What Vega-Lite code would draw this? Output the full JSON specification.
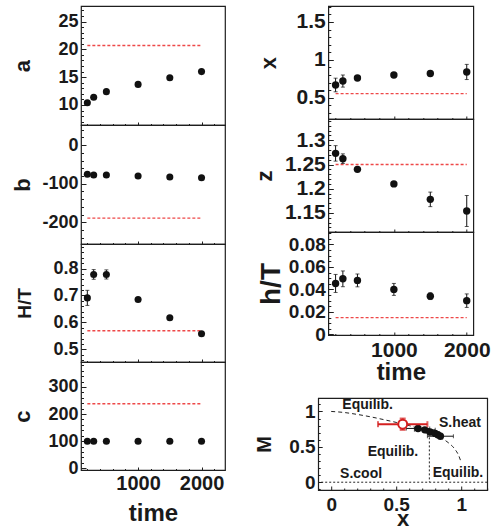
{
  "$schema": "https://vega.github.io/schema/vega-lite/v6.json",
  "padding": {"left": 10, "top": 5, "right": 0, "bottom": 0},
  "config": {
    "font": "Liberation Sans",
    "view": {"stroke": "#1e1e1e", "strokeWidth": 1.2},
    "axis": {
      "domain": false, "grid": false, "tickCount": 200,
      "labelFont": "Liberation Sans", "labelFontWeight": "bold", "labelColor": "#1a1a1a",
      "titleFont": "Liberation Sans", "titleFontWeight": "bold", "titleColor": "#1a1a1a",
      "tickColor": "#1e1e1e", "tickWidth": 1, "labelFlush": false, "labelOverlap": false
    }
  },
  "datasets": {
    "series": [
      {"var": "a", "time": 200, "value": 10.4, "lo": 10.3, "hi": 10.5},
      {"var": "a", "time": 300, "value": 11.4, "lo": 11.3, "hi": 11.5},
      {"var": "a", "time": 500, "value": 12.4, "lo": 12.3, "hi": 12.5},
      {"var": "a", "time": 1000, "value": 13.7, "lo": 13.6, "hi": 13.8},
      {"var": "a", "time": 1500, "value": 14.9, "lo": 14.8, "hi": 15.0},
      {"var": "a", "time": 2000, "value": 16.0, "lo": 15.9, "hi": 16.1},
      {"var": "b", "time": 200, "value": -75.6, "lo": -77, "hi": -74},
      {"var": "b", "time": 300, "value": -77.4, "lo": -79, "hi": -76},
      {"var": "b", "time": 500, "value": -77.4, "lo": -79, "hi": -76},
      {"var": "b", "time": 1000, "value": -80, "lo": -81, "hi": -79},
      {"var": "b", "time": 1500, "value": -82.6, "lo": -84, "hi": -81},
      {"var": "b", "time": 2000, "value": -84.4, "lo": -86, "hi": -83},
      {"var": "H/T", "time": 200, "value": 0.691, "lo": 0.663, "hi": 0.719},
      {"var": "H/T", "time": 300, "value": 0.778, "lo": 0.76, "hi": 0.796},
      {"var": "H/T", "time": 500, "value": 0.778, "lo": 0.761, "hi": 0.795},
      {"var": "H/T", "time": 1000, "value": 0.685, "lo": 0.679, "hi": 0.691},
      {"var": "H/T", "time": 1500, "value": 0.617, "lo": 0.611, "hi": 0.623},
      {"var": "H/T", "time": 2000, "value": 0.558, "lo": 0.552, "hi": 0.564},
      {"var": "c", "time": 200, "value": 100, "lo": 98, "hi": 102},
      {"var": "c", "time": 300, "value": 100, "lo": 98, "hi": 102},
      {"var": "c", "time": 500, "value": 100, "lo": 98, "hi": 102},
      {"var": "c", "time": 1000, "value": 100, "lo": 98, "hi": 102},
      {"var": "c", "time": 1500, "value": 100, "lo": 98, "hi": 102},
      {"var": "c", "time": 2000, "value": 100, "lo": 98, "hi": 102},
      {"var": "x", "time": 200, "value": 0.668, "lo": 0.578, "hi": 0.758},
      {"var": "x", "time": 300, "value": 0.72, "lo": 0.64, "hi": 0.8},
      {"var": "x", "time": 500, "value": 0.76, "lo": 0.73, "hi": 0.79},
      {"var": "x", "time": 1000, "value": 0.8, "lo": 0.77, "hi": 0.83},
      {"var": "x", "time": 1500, "value": 0.82, "lo": 0.79, "hi": 0.85},
      {"var": "x", "time": 2000, "value": 0.84, "lo": 0.74, "hi": 0.94},
      {"var": "z", "time": 200, "value": 1.273, "lo": 1.257, "hi": 1.289},
      {"var": "z", "time": 300, "value": 1.262, "lo": 1.252, "hi": 1.272},
      {"var": "z", "time": 500, "value": 1.24, "lo": 1.236, "hi": 1.244},
      {"var": "z", "time": 1000, "value": 1.21, "lo": 1.206, "hi": 1.214},
      {"var": "z", "time": 1500, "value": 1.178, "lo": 1.163, "hi": 1.193},
      {"var": "z", "time": 2000, "value": 1.154, "lo": 1.122, "hi": 1.186},
      {"var": "h/T", "time": 200, "value": 0.0453, "lo": 0.0373, "hi": 0.0533},
      {"var": "h/T", "time": 300, "value": 0.0494, "lo": 0.0424, "hi": 0.0564},
      {"var": "h/T", "time": 500, "value": 0.048, "lo": 0.0423, "hi": 0.0537},
      {"var": "h/T", "time": 1000, "value": 0.04, "lo": 0.0347, "hi": 0.0453},
      {"var": "h/T", "time": 1500, "value": 0.034, "lo": 0.031, "hi": 0.037},
      {"var": "h/T", "time": 2000, "value": 0.03, "lo": 0.024, "hi": 0.036}
    ],
    "ref": [
      {"var": "a", "value": 20.7, "t0": 200, "t1": 2000},
      {"var": "b", "value": -189, "t0": 200, "t1": 2000},
      {"var": "H/T", "value": 0.569, "t0": 200, "t1": 2000},
      {"var": "c", "value": 238, "t0": 200, "t1": 2000},
      {"var": "x", "value": 0.553, "t0": 200, "t1": 2000},
      {"var": "z", "value": 1.25, "t0": 200, "t1": 2000},
      {"var": "h/T", "value": 0.015, "t0": 200, "t1": 2000}
    ],
    "curve": [
      {"x": 0, "M": 1.0}, {"x": 0.1, "M": 0.985}, {"x": 0.2, "M": 0.958},
      {"x": 0.3, "M": 0.925}, {"x": 0.4, "M": 0.886}, {"x": 0.5, "M": 0.845},
      {"x": 0.6, "M": 0.8}, {"x": 0.7, "M": 0.74}, {"x": 0.8, "M": 0.665},
      {"x": 0.85, "M": 0.62}, {"x": 0.9, "M": 0.56}, {"x": 0.95, "M": 0.47},
      {"x": 0.98, "M": 0.38}, {"x": 1.0, "M": 0.28}
    ],
    "split": [{"x": 0.755, "top": 0.69, "bottom": 0}],
    "floor": [{"M": 0}],
    "track": [
      {"x": 0.668, "M": 0.76, "xlo": 0.578, "xhi": 0.758, "Mlo": 0.74, "Mhi": 0.78},
      {"x": 0.72, "M": 0.74, "xlo": 0.64, "xhi": 0.8, "Mlo": 0.72, "Mhi": 0.76},
      {"x": 0.76, "M": 0.71, "xlo": 0.73, "xhi": 0.79, "Mlo": 0.69, "Mhi": 0.73},
      {"x": 0.8, "M": 0.69, "xlo": 0.77, "xhi": 0.83, "Mlo": 0.67, "Mhi": 0.71},
      {"x": 0.82, "M": 0.67, "xlo": 0.79, "xhi": 0.85, "Mlo": 0.65, "Mhi": 0.69},
      {"x": 0.84, "M": 0.65, "xlo": 0.74, "xhi": 0.94, "Mlo": 0.62, "Mhi": 0.68}
    ],
    "start": [{"x": 0.55, "M": 0.82, "xlo": 0.36, "xhi": 0.74, "Mlo": 0.74, "Mhi": 0.9}],
    "notes": [
      {"label": "Equilib.", "x": 0.28, "M": 1.09},
      {"label": "S.heat", "x": 0.99, "M": 0.83},
      {"label": "Equilib.", "x": 0.475, "M": 0.43},
      {"label": "S.cool", "x": 0.23, "M": 0.12},
      {"label": "Equilib.", "x": 0.975, "M": 0.13}
    ]
  },
  "spacing": 26,
  "hconcat": [
    {
      "vconcat": [
        {
          "width": 144, "height": 119,
          "layer": [
            {"data": {"name": "ref"}, "transform": [{"filter": "datum.var === 'a'"}],
             "mark": {"type": "rule", "color": "#ee4848", "strokeDash": [3, 2], "strokeWidth": 1.3},
             "encoding": {
               "x": {"field": "t0", "type": "quantitative", "title": null, "scale": {"domain": [100, 2370], "nice": false, "zero": false},
                     "axis": {"labels": false, "title": null, "tickCount": 200, "values": [200, 400, 600, 800, 1000, 1200, 1400, 1600, 1800, 2000, 2200],
                              "tickSize": {"condition": {"test": "datum.value % 1000 === 0", "value": -3}, "value": -1.5}}},
               "x2": {"field": "t1"},
               "y": {"field": "value", "type": "quantitative", "title": "a", "scale": {"domain": [6.4, 27.8], "nice": false, "zero": false},
                     "axis": {"titleFontSize": 22, "titleX": -59, "titleBaseline": "middle", "tickCount": 200,
                              "values": [7, 8, 9, 10, 11, 12, 13, 14, 15, 16, 17, 18, 19, 20, 21, 22, 23, 24, 25, 26, 27],
                              "tickSize": {"condition": {"test": "datum.value % 5 === 0", "value": -5}, "value": -2.5},
                              "labelFontSize": {"condition": {"test": "datum.value % 5 === 0", "value": 18}, "value": 0},
                              "labelExpr": "datum.value % 5 === 0 ? '' + datum.value : ''", "labelPadding": 8}}
             }},
            {"data": {"name": "series"}, "transform": [{"filter": "datum.var === 'a'"}],
             "mark": {"type": "errorbar", "ticks": true, "size": 4, "thickness": 1, "color": "#111"},
             "encoding": {"x": {"field": "time", "type": "quantitative", "title": null}, "y": {"field": "lo", "type": "quantitative", "title": "a"}, "y2": {"field": "hi"}}},
            {"data": {"name": "series"}, "transform": [{"filter": "datum.var === 'a'"}],
             "mark": {"type": "circle", "size": 50, "color": "#111", "opacity": 1},
             "encoding": {"x": {"field": "time", "type": "quantitative", "title": null}, "y": {"field": "value", "type": "quantitative", "title": "a"}}}
          ]
        },
        {
          "width": 144, "height": 119,
          "layer": [
            {"data": {"name": "ref"}, "transform": [{"filter": "datum.var === 'b'"}],
             "mark": {"type": "rule", "color": "#ee4848", "strokeDash": [3, 2], "strokeWidth": 1.3},
             "encoding": {
               "x": {"field": "t0", "type": "quantitative", "title": null, "scale": {"domain": [100, 2370], "nice": false, "zero": false},
                     "axis": {"labels": false, "title": null, "tickCount": 200, "values": [200, 400, 600, 800, 1000, 1200, 1400, 1600, 1800, 2000, 2200],
                              "tickSize": {"condition": {"test": "datum.value % 1000 === 0", "value": -3}, "value": -1.5}}},
               "x2": {"field": "t1"},
               "y": {"field": "value", "type": "quantitative", "title": "b", "scale": {"domain": [-256, 52], "nice": false, "zero": false},
                     "axis": {"titleFontSize": 22, "titleX": -59, "titleBaseline": "middle", "tickCount": 200,
                              "values": [-240, -220, -200, -180, -160, -140, -120, -100, -80, -60, -40, -20, 0, 20, 40],
                              "tickSize": {"condition": {"test": "datum.value % 100 === 0", "value": -5}, "value": -2.5},
                              "labelFontSize": {"condition": {"test": "datum.value % 100 === 0", "value": 18}, "value": 0},
                              "labelExpr": "datum.value % 100 === 0 ? '' + datum.value : ''", "labelPadding": 8}}
             }},
            {"data": {"name": "series"}, "transform": [{"filter": "datum.var === 'b'"}],
             "mark": {"type": "errorbar", "ticks": true, "size": 4, "thickness": 1, "color": "#111"},
             "encoding": {"x": {"field": "time", "type": "quantitative", "title": null}, "y": {"field": "lo", "type": "quantitative", "title": "b"}, "y2": {"field": "hi"}}},
            {"data": {"name": "series"}, "transform": [{"filter": "datum.var === 'b'"}],
             "mark": {"type": "circle", "size": 50, "color": "#111", "opacity": 1},
             "encoding": {"x": {"field": "time", "type": "quantitative", "title": null}, "y": {"field": "value", "type": "quantitative", "title": "b"}}}
          ]
        },
        {
          "width": 144, "height": 118,
          "layer": [
            {"data": {"name": "ref"}, "transform": [{"filter": "datum.var === 'H/T'"}],
             "mark": {"type": "rule", "color": "#ee4848", "strokeDash": [3, 2], "strokeWidth": 1.3},
             "encoding": {
               "x": {"field": "t0", "type": "quantitative", "title": null, "scale": {"domain": [100, 2370], "nice": false, "zero": false},
                     "axis": {"labels": false, "title": null, "tickCount": 200, "values": [200, 400, 600, 800, 1000, 1200, 1400, 1600, 1800, 2000, 2200],
                              "tickSize": {"condition": {"test": "datum.value % 1000 === 0", "value": -3}, "value": -1.5}}},
               "x2": {"field": "t1"},
               "y": {"field": "value", "type": "quantitative", "title": "H/T", "scale": {"domain": [0.453, 0.891], "nice": false, "zero": false},
                     "axis": {"titleFontSize": 19, "titleX": -56.5, "titleBaseline": "middle", "tickCount": 200,
                              "values": [0.46, 0.48, 0.5, 0.52, 0.54, 0.56, 0.58, 0.6, 0.62, 0.64, 0.66, 0.68, 0.7, 0.72, 0.74, 0.76, 0.78, 0.8, 0.82, 0.84, 0.86, 0.88],
                              "tickSize": {"condition": {"test": "abs(datum.value * 10 - round(datum.value * 10)) < 1e-6", "value": -5}, "value": -2.5},
                              "labelFontSize": {"condition": {"test": "abs(datum.value * 10 - round(datum.value * 10)) < 1e-6", "value": 18}, "value": 0},
                              "labelExpr": "abs(datum.value * 10 - round(datum.value * 10)) < 1e-6 ? '' + datum.value : ''", "labelPadding": 8}}
             }},
            {"data": {"name": "series"}, "transform": [{"filter": "datum.var === 'H/T'"}],
             "mark": {"type": "errorbar", "ticks": true, "size": 4, "thickness": 1, "color": "#111"},
             "encoding": {"x": {"field": "time", "type": "quantitative", "title": null}, "y": {"field": "lo", "type": "quantitative", "title": "H/T"}, "y2": {"field": "hi"}}},
            {"data": {"name": "series"}, "transform": [{"filter": "datum.var === 'H/T'"}],
             "mark": {"type": "circle", "size": 50, "color": "#111", "opacity": 1},
             "encoding": {"x": {"field": "time", "type": "quantitative", "title": null}, "y": {"field": "value", "type": "quantitative", "title": "H/T"}}}
          ]
        },
        {
          "width": 144, "height": 108,
          "layer": [
            {"data": {"name": "ref"}, "transform": [{"filter": "datum.var === 'c'"}],
             "mark": {"type": "rule", "color": "#ee4848", "strokeDash": [3, 2], "strokeWidth": 1.3},
             "encoding": {
               "x": {"field": "t0", "type": "quantitative", "title": "time", "scale": {"domain": [100, 2370], "nice": false, "zero": false},
                     "axis": {"titleFontSize": 24, "titleY": 31, "titleBaseline": "top", "tickCount": 200,
                              "values": [200, 400, 600, 800, 1000, 1200, 1400, 1600, 1800, 2000, 2200],
                              "tickSize": {"condition": {"test": "datum.value % 1000 === 0", "value": -3}, "value": -1.5},
                              "labelExpr": "datum.value % 1000 === 0 ? '' + datum.value : ''", "labelFontSize": 20, "labelPadding": 6}},
               "x2": {"field": "t1"},
               "y": {"field": "value", "type": "quantitative", "title": "c", "scale": {"domain": [-6.3, 392], "nice": false, "zero": false},
                     "axis": {"titleFontSize": 22, "titleX": -59, "titleBaseline": "middle", "tickCount": 200,
                              "values": [0, 20, 40, 60, 80, 100, 120, 140, 160, 180, 200, 220, 240, 260, 280, 300, 320, 340, 360, 380],
                              "tickSize": {"condition": {"test": "datum.value % 100 === 0", "value": -5}, "value": -2.5},
                              "labelFontSize": {"condition": {"test": "datum.value % 100 === 0", "value": 18}, "value": 0},
                              "labelExpr": "datum.value % 100 === 0 ? '' + datum.value : ''", "labelPadding": 8}}
             }},
            {"data": {"name": "series"}, "transform": [{"filter": "datum.var === 'c'"}],
             "mark": {"type": "errorbar", "ticks": true, "size": 4, "thickness": 1, "color": "#111"},
             "encoding": {"x": {"field": "time", "type": "quantitative", "title": "time"}, "y": {"field": "lo", "type": "quantitative", "title": "c"}, "y2": {"field": "hi"}}},
            {"data": {"name": "series"}, "transform": [{"filter": "datum.var === 'c'"}],
             "mark": {"type": "circle", "size": 50, "color": "#111", "opacity": 1},
             "encoding": {"x": {"field": "time", "type": "quantitative", "title": "time"}, "y": {"field": "value", "type": "quantitative", "title": "c"}}}
          ]
        }
      ],
      "spacing": 0,
      "bounds": "flush"
    },
    {
      "vconcat": [
        {
          "vconcat": [
            {
              "width": 145, "height": 113,
              "layer": [
                {"data": {"name": "ref"}, "transform": [{"filter": "datum.var === 'x'"}],
                 "mark": {"type": "rule", "color": "#ee4848", "strokeDash": [3, 2], "strokeWidth": 1.3},
                 "encoding": {
                   "x": {"field": "t0", "type": "quantitative", "title": null, "scale": {"domain": [100, 2090], "nice": false, "zero": false},
                         "axis": {"labels": false, "title": null, "tickCount": 200, "values": [200, 400, 600, 800, 1000, 1200, 1400, 1600, 1800, 2000],
                                  "tickSize": {"condition": {"test": "datum.value % 1000 === 0", "value": -3}, "value": -1.5}}},
                   "x2": {"field": "t1"},
                   "y": {"field": "value", "type": "quantitative", "title": "x", "scale": {"domain": [0.219, 1.711], "nice": false, "zero": false},
                         "axis": {"titleFontSize": 22, "titleX": -60, "titleBaseline": "middle", "tickCount": 200,
                                  "values": [0.3, 0.4, 0.5, 0.6, 0.7, 0.8, 0.9, 1, 1.1, 1.2, 1.3, 1.4, 1.5, 1.6, 1.7],
                                  "tickSize": {"condition": {"test": "abs(datum.value * 2 - round(datum.value * 2)) < 1e-6", "value": -5}, "value": -2.5},
                                  "labelFontSize": {"condition": {"test": "abs(datum.value * 2 - round(datum.value * 2)) < 1e-6", "value": 21}, "value": 0},
                                  "labelExpr": "abs(datum.value * 2 - round(datum.value * 2)) < 1e-6 ? '' + datum.value : ''", "labelPadding": 8}}
                 }},
                {"data": {"name": "series"}, "transform": [{"filter": "datum.var === 'x'"}],
                 "mark": {"type": "errorbar", "ticks": true, "size": 4, "thickness": 1, "color": "#111"},
                 "encoding": {"x": {"field": "time", "type": "quantitative", "title": null}, "y": {"field": "lo", "type": "quantitative", "title": "x"}, "y2": {"field": "hi"}}},
                {"data": {"name": "series"}, "transform": [{"filter": "datum.var === 'x'"}],
                 "mark": {"type": "circle", "size": 55, "color": "#111", "opacity": 1},
                 "encoding": {"x": {"field": "time", "type": "quantitative", "title": null}, "y": {"field": "value", "type": "quantitative", "title": "x"}}}
              ]
            },
            {
              "width": 145, "height": 113,
              "layer": [
                {"data": {"name": "ref"}, "transform": [{"filter": "datum.var === 'z'"}],
                 "mark": {"type": "rule", "color": "#ee4848", "strokeDash": [3, 2], "strokeWidth": 1.3},
                 "encoding": {
                   "x": {"field": "t0", "type": "quantitative", "title": null, "scale": {"domain": [100, 2090], "nice": false, "zero": false},
                         "axis": {"labels": false, "title": null, "tickCount": 200, "values": [200, 400, 600, 800, 1000, 1200, 1400, 1600, 1800, 2000],
                                  "tickSize": {"condition": {"test": "datum.value % 1000 === 0", "value": -3}, "value": -1.5}}},
                   "x2": {"field": "t1"},
                   "y": {"field": "value", "type": "quantitative", "title": "z", "scale": {"domain": [1.1106, 1.344], "nice": false, "zero": false},
                         "axis": {"titleFontSize": 22, "titleX": -64, "titleBaseline": "middle", "tickCount": 200,
                                  "values": [1.12, 1.13, 1.14, 1.15, 1.16, 1.17, 1.18, 1.19, 1.2, 1.21, 1.22, 1.23, 1.24, 1.25, 1.26, 1.27, 1.28, 1.29, 1.3, 1.31, 1.32, 1.33, 1.34],
                                  "tickSize": {"condition": {"test": "abs(datum.value * 20 - round(datum.value * 20)) < 1e-6", "value": -5}, "value": -2.5},
                                  "labelFontSize": {"condition": {"test": "abs(datum.value * 20 - round(datum.value * 20)) < 1e-6", "value": 21}, "value": 0},
                                  "labelExpr": "abs(datum.value * 20 - round(datum.value * 20)) < 1e-6 ? '' + datum.value : ''", "labelPadding": 8}}
                 }},
                {"data": {"name": "series"}, "transform": [{"filter": "datum.var === 'z'"}],
                 "mark": {"type": "errorbar", "ticks": true, "size": 4, "thickness": 1, "color": "#111"},
                 "encoding": {"x": {"field": "time", "type": "quantitative", "title": null}, "y": {"field": "lo", "type": "quantitative", "title": "z"}, "y2": {"field": "hi"}}},
                {"data": {"name": "series"}, "transform": [{"filter": "datum.var === 'z'"}],
                 "mark": {"type": "circle", "size": 55, "color": "#111", "opacity": 1},
                 "encoding": {"x": {"field": "time", "type": "quantitative", "title": null}, "y": {"field": "value", "type": "quantitative", "title": "z"}}}
              ]
            },
            {
              "width": 145, "height": 103,
              "layer": [
                {"data": {"name": "ref"}, "transform": [{"filter": "datum.var === 'h/T'"}],
                 "mark": {"type": "rule", "color": "#ee4848", "strokeDash": [3, 2], "strokeWidth": 1.3},
                 "encoding": {
                   "x": {"field": "t0", "type": "quantitative", "title": "time", "scale": {"domain": [100, 2090], "nice": false, "zero": false},
                         "axis": {"titleFontSize": 24, "titleY": 25, "titleBaseline": "top", "tickCount": 200,
                                  "values": [200, 400, 600, 800, 1000, 1200, 1400, 1600, 1800, 2000],
                                  "tickSize": {"condition": {"test": "datum.value % 1000 === 0", "value": -3}, "value": -1.5},
                                  "labelExpr": "datum.value % 1000 === 0 ? '' + datum.value : ''", "labelFontSize": 21, "labelPadding": 7}},
                   "x2": {"field": "t1"},
                   "y": {"field": "value", "type": "quantitative", "title": "h/T", "scale": {"domain": [-0.0005, 0.091], "nice": false, "zero": false},
                         "axis": {"titleFontSize": 28, "titleX": -57, "titleBaseline": "middle", "tickCount": 200,
                                  "values": [0, 0.005, 0.01, 0.015, 0.02, 0.025, 0.03, 0.035, 0.04, 0.045, 0.05, 0.055, 0.06, 0.065, 0.07, 0.075, 0.08, 0.085, 0.09],
                                  "tickSize": {"condition": {"test": "abs(datum.value * 50 - round(datum.value * 50)) < 1e-6", "value": -5}, "value": -2.5},
                                  "labelFontSize": {"condition": {"test": "abs(datum.value * 50 - round(datum.value * 50)) < 1e-6", "value": 19}, "value": 0},
                                  "labelExpr": "abs(datum.value * 50 - round(datum.value * 50)) < 1e-6 ? '' + datum.value : ''", "labelPadding": 8}}
                 }},
                {"data": {"name": "series"}, "transform": [{"filter": "datum.var === 'h/T'"}],
                 "mark": {"type": "errorbar", "ticks": true, "size": 4, "thickness": 1, "color": "#111"},
                 "encoding": {"x": {"field": "time", "type": "quantitative", "title": "time"}, "y": {"field": "lo", "type": "quantitative", "title": "h/T"}, "y2": {"field": "hi"}}},
                {"data": {"name": "series"}, "transform": [{"filter": "datum.var === 'h/T'"}],
                 "mark": {"type": "circle", "size": 55, "color": "#111", "opacity": 1},
                 "encoding": {"x": {"field": "time", "type": "quantitative", "title": "time"}, "y": {"field": "value", "type": "quantitative", "title": "h/T"}}}
              ]
            }
          ],
          "spacing": 0,
          "bounds": "flush"
        },
        {
          "width": 169, "height": 92,
          "resolve": {"axis": {"y": "independent"}},
          "layer": [
            {
              "layer": [
                {"data": {"name": "curve"},
                 "mark": {"type": "line", "color": "#222", "strokeDash": [4, 3], "strokeWidth": 1, "interpolate": "monotone"},
                 "encoding": {
                   "x": {"field": "x", "type": "quantitative", "title": "x", "scale": {"domain": [-0.1, 1.2], "nice": false, "zero": false},
                         "axis": {"titleFontSize": 22, "titleY": 40, "titleBaseline": "bottom", "tickCount": 200,
                                  "values": [-0.1, 0, 0.1, 0.2, 0.3, 0.4, 0.5, 0.6, 0.7, 0.8, 0.9, 1, 1.1, 1.2],
                                  "tickSize": {"condition": {"test": "abs(datum.value * 2 - round(datum.value * 2)) < 1e-6", "value": -4}, "value": -2},
                                  "labelExpr": "abs(datum.value * 2 - round(datum.value * 2)) < 1e-6 ? '' + datum.value : ''", "labelFontSize": 19, "labelPadding": 9}},
                   "y": {"field": "M", "type": "quantitative", "title": "M", "scale": {"domain": [-0.11, 1.19], "nice": false, "zero": false},
                         "axis": {"titleFontSize": 20, "titleX": -53.5, "titleBaseline": "middle", "tickCount": 200,
                                  "values": [-0.1, 0, 0.1, 0.2, 0.3, 0.4, 0.5, 0.6, 0.7, 0.8, 0.9, 1, 1.1],
                                  "tickSize": {"condition": {"test": "abs(datum.value * 2 - round(datum.value * 2)) < 1e-6", "value": -4}, "value": -2},
                                  "labelFontSize": {"condition": {"test": "abs(datum.value * 2 - round(datum.value * 2)) < 1e-6", "value": 19}, "value": 0},
                                  "labelExpr": "abs(datum.value * 2 - round(datum.value * 2)) < 1e-6 ? '' + datum.value : ''", "labelPadding": 7}}
                 }},
                {"data": {"name": "split"},
                 "mark": {"type": "rule", "color": "#222", "strokeDash": [2, 2], "strokeWidth": 1},
                 "encoding": {"x": {"field": "x", "type": "quantitative", "title": "x"}, "y": {"field": "top", "type": "quantitative", "title": "M"}, "y2": {"field": "bottom"}}},
                {"data": {"name": "track"},
                 "mark": {"type": "errorbar", "ticks": true, "size": 4, "thickness": 1, "color": "#111"},
                 "encoding": {"x": {"field": "xlo", "type": "quantitative", "title": "x"}, "x2": {"field": "xhi"}, "y": {"field": "M", "type": "quantitative", "title": "M"}}},
                {"data": {"name": "track"},
                 "mark": {"type": "errorbar", "ticks": true, "size": 4, "thickness": 1, "color": "#111"},
                 "encoding": {"x": {"field": "x", "type": "quantitative", "title": "x"}, "y": {"field": "Mlo", "type": "quantitative", "title": "M"}, "y2": {"field": "Mhi"}}},
                {"data": {"name": "track"},
                 "mark": {"type": "circle", "size": 55, "color": "#111", "opacity": 1},
                 "encoding": {"x": {"field": "x", "type": "quantitative", "title": "x"}, "y": {"field": "M", "type": "quantitative", "title": "M"}}},
                {"data": {"name": "start"},
                 "mark": {"type": "errorbar", "ticks": true, "size": 6, "thickness": 2, "color": "#d42020"},
                 "encoding": {"x": {"field": "xlo", "type": "quantitative", "title": "x"}, "x2": {"field": "xhi"}, "y": {"field": "M", "type": "quantitative", "title": "M"}}},
                {"data": {"name": "start"},
                 "mark": {"type": "errorbar", "ticks": true, "size": 6, "thickness": 2, "color": "#d42020"},
                 "encoding": {"x": {"field": "x", "type": "quantitative", "title": "x"}, "y": {"field": "Mlo", "type": "quantitative", "title": "M"}, "y2": {"field": "Mhi"}}},
                {"data": {"name": "start"},
                 "mark": {"type": "point", "shape": "circle", "filled": true, "fill": "white", "stroke": "#d42020", "strokeWidth": 2, "size": 80, "opacity": 1},
                 "encoding": {"x": {"field": "x", "type": "quantitative", "title": "x"}, "y": {"field": "M", "type": "quantitative", "title": "M"}}},
                {"data": {"name": "notes"},
                 "mark": {"type": "text", "font": "Liberation Sans", "fontWeight": "bold", "fontSize": 14, "color": "#1a1a1a", "align": "center", "baseline": "middle"},
                 "encoding": {"x": {"field": "x", "type": "quantitative", "title": "x"}, "y": {"field": "M", "type": "quantitative", "title": "M"}, "text": {"field": "label"}}}
              ]
            },
            {"data": {"name": "floor"},
             "mark": {"type": "rule", "color": "#222", "strokeDash": [2, 2], "strokeWidth": 1},
             "encoding": {"y": {"field": "M", "type": "quantitative", "title": null,
                                "axis": {"orient": "right", "labels": false, "ticks": false, "domain": false, "title": null, "minExtent": 13, "maxExtent": 13}}}}
          ]
        }
      ],
      "spacing": 12,
      "center": true
    }
  ]
}
